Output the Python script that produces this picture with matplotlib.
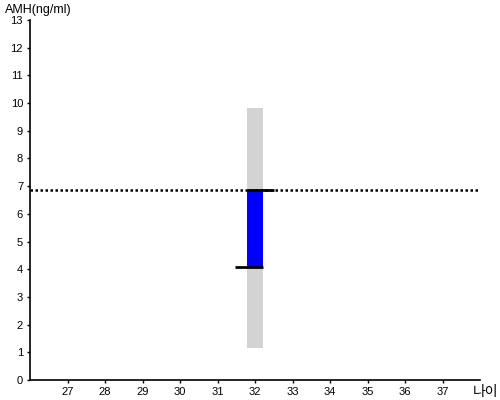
import matplotlib
matplotlib.use("Agg")
import matplotlib.pyplot as plt

plt.rcParams['font.family'] = ['Liberation Sans', 'Noto Sans CJK KR', 'DejaVu Sans']

age = 32
range_low, range_high = 1.17, 9.82
value_low, value_high = 4.07, 6.86
reference_line = 6.86
x_ticks = list(range(27, 38))
y_ticks = list(range(0, 14))

fig = plt.figure(figsize=(5, 4), dpi=100)
ax = fig.add_axes([0.06, 0.05, 0.90, 0.90])

ax.bar([age], [range_high - range_low], bottom=[range_low], width=0.42,
       color='#d3d3d3', zorder=1)
ax.bar([age], [value_high - value_low], bottom=[value_low], width=0.42,
       color='#0000ff', zorder=2)
ax.hlines([value_low], age - 0.53, age + 0.21, color='black', lw=2, zorder=3)
ax.hlines([value_high], age - 0.21, age + 0.5, color='black', lw=2, zorder=3)
ax.axhline(reference_line, color='black', lw=1.8, linestyle=(0, (1, 1)), zorder=4)

ax.set_xlim(26, 38)
ax.set_ylim(0, 13)
ax.set_xticks(x_ticks)
ax.set_yticks(y_ticks)
ax.tick_params(labelsize=8, length=2.5, width=1, pad=2.5)
for s in ['top', 'right']:
    ax.spines[s].set_visible(False)
ax.spines['left'].set_linewidth(1.2)
ax.spines['bottom'].set_linewidth(1.2)

fig.text(0.01, 0.975, 'AMH(ng/ml)', fontsize=9, va='center', ha='left')
fig.text(0.945, 0.02, '나이', fontsize=10, va='center', ha='left',
         family=['Noto Sans CJK KR', 'DejaVu Sans'])

fig.savefig('out.png', dpi=100)
